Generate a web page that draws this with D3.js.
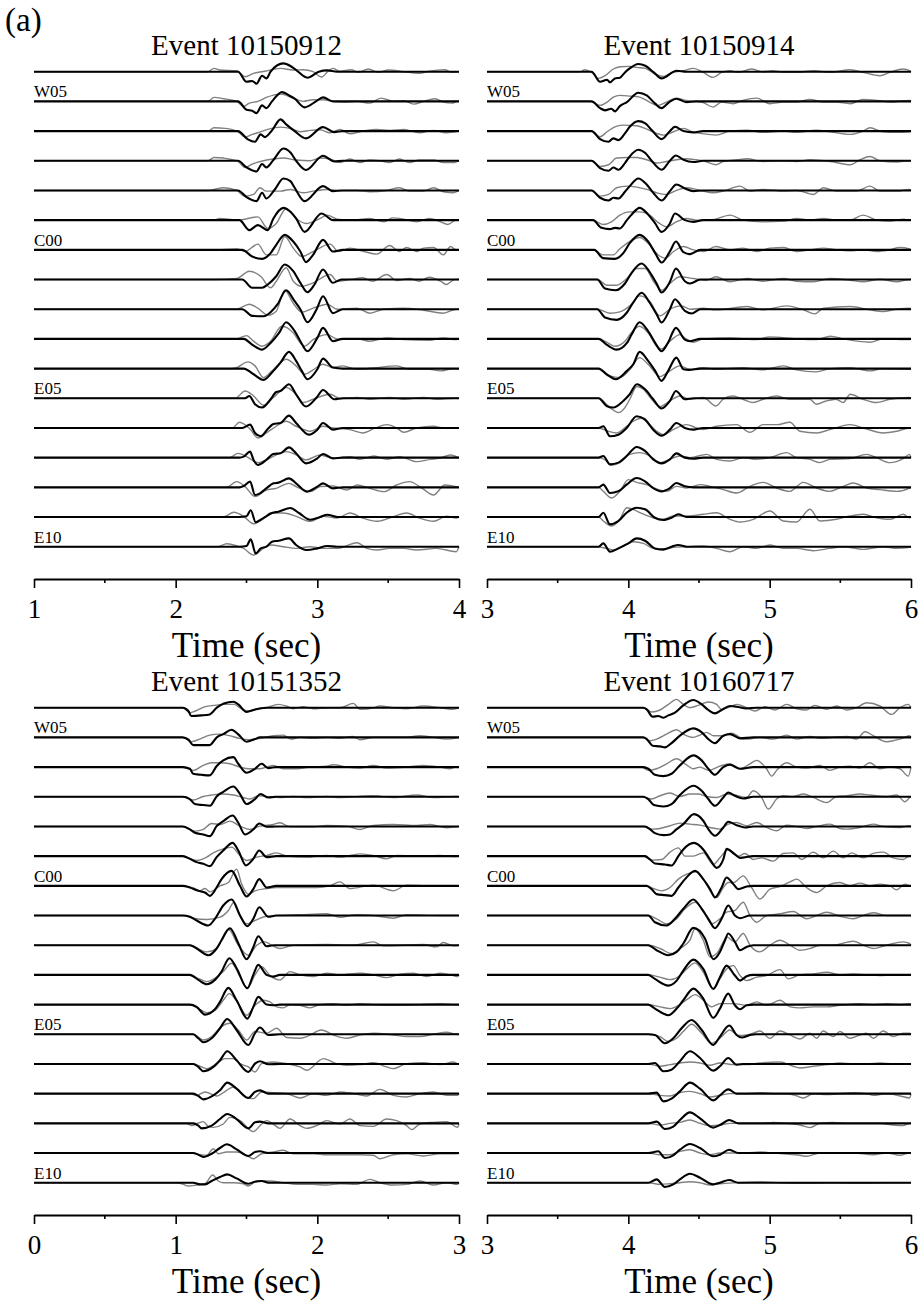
<!DOCTYPE html>
<html>
<head>
<meta charset="utf-8">
<script src="https://cdn.jsdelivr.net/npm/d3@7"></script>
<style>
body { margin: 0; background: #fff; }
</style>
</head>
<body>
<div id="chart"></div>
<script>
// stations, top to bottom
var stations = ["W06","W05","W04","W03","W02","W01","C00","E01","E02","E03","E04","E05","E06","E07","E08","E09","E10"];
var labelled = ["W05","C00","E05","E10"];
var events = ["10150912","10150914","10151352","10160717"];
var timeRanges = [[1,4],[3,6],[0,3],[3,6]];
var majorTicks = [[1,2,3,4],[3,4,5,6],[0,1,2,3],[3,4,5,6]];

// each trace: flat list of time (s), amplitude pairs
var ev1Black = [
 [2.44,0,2.50,-1.0,2.54,-0.93,2.57,-1.2,2.61,-0.4,2.64,-0.67,2.67,0,2.76,0.83,2.81,0.57,2.85,0.17,2.93,-0.6,3.01,0,3.07,0.13,3.14,0],
 [2.44,0,2.50,-0.83,2.54,-0.93,2.57,-1.17,2.61,-0.4,2.64,-0.67,2.68,0,2.75,0.93,2.80,0.6,2.84,0.27,2.91,-0.6,2.99,0,3.04,0.4,3.11,0],
 [2.44,0,2.51,-0.83,2.56,-1.07,2.60,-0.33,2.63,-0.6,2.68,0.07,2.74,1.17,2.78,0.67,2.84,0,2.92,-0.73,3.04,0.4,3.12,-0.1,3.18,0],
 [2.44,0,2.50,-0.67,2.57,-1.07,2.61,-0.33,2.64,-0.67,2.69,0.07,2.76,1.23,2.81,0.83,2.85,0,2.92,-0.93,3.04,0.5,3.12,-0.07,3.18,0],
 [2.44,0,2.50,-0.67,2.57,-1.07,2.61,-0.23,2.64,-0.8,2.70,0.1,2.76,1.2,2.81,0.93,2.84,0.27,2.91,-1.07,3.04,0.43,3.11,-0.07,3.18,0],
 [2.45,0,2.52,-1.0,2.58,-0.5,2.65,-1.0,2.69,0.17,2.76,1.23,2.81,0.83,2.85,0.17,2.91,-1.17,3.03,0.67,3.11,0,3.16,0],
 [2.47,0,2.54,-0.67,2.61,-0.9,2.67,-0.33,2.71,0.5,2.77,1.5,2.83,0.83,2.88,-0.17,2.92,-1.23,2.97,-0.5,3.04,1.0,3.11,-0.17,3.18,0],
 [2.47,0,2.54,-0.83,2.61,-0.83,2.65,-0.5,2.71,0.33,2.77,1.5,2.83,0.83,2.88,-0.33,2.93,-1.27,2.98,-0.5,3.04,1.0,3.11,-0.33,3.17,0],
 [2.47,0,2.54,-0.67,2.62,-0.7,2.67,-0.3,2.72,0.5,2.78,1.9,2.84,0.8,2.88,0,2.93,-1.3,2.995,0,3.04,1.3,3.11,-0.4,3.18,0],
 [2.48,0,2.54,-0.57,2.61,-1.07,2.67,-0.4,2.73,0.6,2.78,1.67,2.84,0.77,2.88,-0.23,2.93,-1.23,3.0,0.1,3.04,1.1,3.11,-0.23,3.18,0],
 [2.48,0,2.55,-0.57,2.62,-1.13,2.69,-0.23,2.74,0.6,2.80,1.67,2.85,0.77,2.89,-0.23,2.93,-1.07,3.0,-0.07,3.04,1.0,3.11,0.1,3.18,0],
 [2.49,0,2.52,0.23,2.56,-0.6,2.61,-0.93,2.67,-0.1,2.71,0.63,2.74,0.73,2.80,1.4,2.85,0.4,2.92,-0.83,2.995,0.07,3.04,0.83,3.12,-0.1,3.18,0],
 [2.47,0,2.525,0.33,2.56,-0.5,2.60,-0.83,2.65,-0.1,2.69,0.4,2.74,0.5,2.80,1.23,2.85,0.5,2.94,-0.67,3.0,-0.17,3.04,0.5,3.11,-0.17,3.18,0],
 [2.45,0,2.48,0.1,2.525,0.6,2.55,-0.23,2.58,-0.73,2.64,-0.23,2.69,0.37,2.74,0.43,2.80,1.03,2.85,0.43,2.92,-0.57,3.0,-0.07,3.04,0.37,3.11,-0.07,3.18,0],
 [2.45,0,2.48,0.13,2.525,0.57,2.56,-0.77,2.595,-0.6,2.64,-0.1,2.69,0.4,2.725,0.47,2.80,0.9,2.85,0.4,2.925,-0.43,3.0,0.07,3.04,0.4,3.11,-0.1,3.18,0],
 [2.45,0,2.50,0.07,2.53,0.67,2.565,-0.53,2.60,-0.27,2.64,0.07,2.68,0.4,2.725,0.53,2.81,0.9,2.87,0.4,2.95,-0.27,3.02,0,3.07,0.23,3.14,0],
 [2.45,0,2.50,0.07,2.53,0.73,2.565,-0.67,2.60,-0.17,2.64,0,2.68,0.5,2.725,0.6,2.80,0.83,2.85,0.17,2.925,-0.33,3.0,-0.17,3.07,0.07,3.14,0]
];
var ev1Gray = [
 [2.27,0.33,2.31,0.17,2.43,0.1,2.49,-0.5,2.55,-0.17,2.63,0.05,2.74,0.33,2.83,0.17,2.90,0.2,2.97,0,3.03,-0.53,3.08,0.1,3.11,0.33,3.16,0.05,3.24,0.2,3.29,-0.07,3.36,0.27,3.43,-0.07,3.50,0.17,3.61,0,3.72,-0.17,3.79,0.05,3.90,0.2,3.95,-0.07],
 [2.27,0.4,2.34,0.27,2.43,0,2.48,-0.5,2.52,-0.17,2.58,0,2.64,0.4,2.74,0.73,2.83,0.33,2.90,0,2.97,0.17,3.04,0.17,3.11,0,3.18,-0.07,3.28,0,3.37,-0.17,3.45,0.33,3.54,0,3.61,0.07,3.68,-0.27,3.75,0,3.83,0.27,3.89,-0.07,3.95,-0.17],
 [2.27,0.33,2.35,0.27,2.44,-0.07,2.49,-0.6,2.54,-0.33,2.58,-0.17,2.65,0.17,2.74,0.4,2.83,0.17,2.88,-0.07,2.95,0.07,3.02,0.13,3.09,-0.17,3.16,0.17,3.23,-0.27,3.32,0,3.42,0.17,3.51,0.07,3.61,0.17,3.72,-0.17,3.82,0.07,3.91,-0.17,3.97,-0.07],
 [2.27,0.33,2.34,0.27,2.44,-0.07,2.49,-0.67,2.54,-0.33,2.62,0,2.69,0.17,2.76,0.27,2.85,0.07,2.95,0,3.02,0.27,3.09,0.17,3.16,-0.17,3.23,0.17,3.30,-0.17,3.37,0.07,3.44,0,3.51,-0.17,3.58,0.17,3.65,-0.17,3.72,0.07,3.82,0.07,3.89,-0.17,3.97,-0.17],
 [2.27,0.1,2.34,0.27,2.43,0,2.49,-0.57,2.55,-0.4,2.595,0.27,2.64,-0.07,2.74,-0.07,2.81,0.1,2.90,-0.23,2.97,-0.07,3.07,0.1,3.14,0,3.28,0,3.37,-0.13,3.49,0,3.58,0.27,3.65,-0.07,3.75,-0.07,3.82,0.27,3.89,-0.13,3.96,-0.23],
 [2.27,0,2.31,0.17,2.44,0,2.58,0.33,2.65,-0.83,2.71,-0.33,2.78,1.17,2.85,0.17,2.92,-0.33,3.02,0.17,3.07,0.5,3.14,0.1,3.25,0,3.37,0.17,3.47,-0.17,3.53,0.23,3.61,0.1,3.70,-0.17,3.79,0.17,3.87,-0.17,3.92,-0.43,3.98,0],
 [2.27,0,2.43,0.1,2.49,-0.17,2.58,0.57,2.64,-0.5,2.71,-0.5,2.77,1.33,2.83,0.17,2.89,-0.67,2.97,-0.17,3.09,0.57,3.15,-0.17,3.23,0.17,3.33,-0.17,3.42,-0.43,3.51,0.43,3.58,-0.17,3.63,0.23,3.70,-0.17,3.75,0.17,3.82,0.23,3.89,-0.5,3.94,0.33,3.98,0],
 [2.27,0,2.43,0.1,2.52,0.83,2.60,0.33,2.67,-0.83,2.71,-0.17,2.78,1.17,2.83,-0.17,2.89,-0.67,2.97,-0.33,3.09,0.5,3.14,-0.17,3.23,0,3.32,0.17,3.39,-0.17,3.49,0.5,3.56,-0.1,3.65,0.1,3.72,-0.17,3.79,0.23,3.87,-0.17,3.91,-0.5,3.97,0],
 [2.43,0,2.52,0.5,2.58,0.1,2.65,-0.6,2.71,-0.2,2.77,1.9,2.83,0.6,2.89,-0.3,2.97,0.1,3.07,0.5,3.14,0,3.28,0.1,3.37,-0.4,3.47,0,3.61,0.1,3.75,-0.1,3.89,-0.4,3.98,0],
 [2.43,0,2.50,0.33,2.55,-0.23,2.61,-0.73,2.67,-0.23,2.75,1.27,2.83,0.6,2.88,-0.4,2.91,-0.73,2.97,-0.07,3.07,0.43,3.14,0,3.28,0,3.37,-0.23,3.49,0.1,3.61,-0.07,3.79,-0.13,3.89,0.1,3.98,-0.07],
 [2.43,0.1,2.51,0.67,2.56,0.27,2.62,-0.9,2.68,-0.23,2.78,0.93,2.85,0.27,2.91,-0.57,2.97,-0.13,3.04,0.43,3.11,0.1,3.18,0.27,3.28,-0.07,3.42,0.1,3.56,0.27,3.65,-0.07,3.79,-0.07,3.87,-0.23,3.96,0],
 [2.42,0,2.49,0.73,2.55,0.23,2.62,-0.7,2.69,0.07,2.78,1.07,2.85,0.4,2.90,-0.43,2.97,-0.1,3.09,0.4,3.16,-0.03,3.28,0.07,3.37,-0.1,3.51,0.07,3.61,-0.1,3.75,0.07,3.84,-0.1,3.96,0],
 [2.40,0,2.45,0.57,2.525,-0.1,2.58,-1.0,2.64,-0.5,2.71,0.17,2.78,0.67,2.85,0.17,2.95,-0.33,3.04,0.17,3.11,0,3.23,-0.17,3.32,-0.5,3.41,0,3.49,0.33,3.56,0,3.61,-0.43,3.70,0,3.82,0.17,3.89,0,3.98,0],
 [2.38,0,2.44,0.43,2.50,0.1,2.58,-0.5,2.64,-0.23,2.71,0.27,2.78,0.6,2.85,0.27,2.92,-0.23,3.02,0.27,3.11,-0.07,3.23,0.1,3.30,-0.17,3.40,0.17,3.49,-0.17,3.58,0.1,3.70,-0.4,3.80,-0.17,3.86,-0.07,3.94,0.27,3.98,0.1],
 [2.36,0,2.43,0.57,2.49,0.07,2.56,-0.93,2.64,-0.27,2.71,-0.1,2.80,0.4,2.85,0.07,2.95,-0.43,3.02,0.07,3.11,0.13,3.21,-0.27,3.28,0.23,3.37,-0.1,3.47,-0.43,3.56,0.23,3.65,0.57,3.74,-0.1,3.82,-0.77,3.90,0.23,3.98,0.07],
 [2.35,0.07,2.41,0.47,2.48,0.07,2.55,-0.67,2.61,-0.27,2.67,0.4,2.76,0.4,2.85,0.07,2.95,-0.43,3.04,0.07,3.14,-0.1,3.23,0.4,3.32,-0.1,3.42,-0.43,3.51,-0.1,3.63,0.4,3.72,-0.1,3.82,-0.43,3.91,0.07,3.98,-0.1],
 [2.30,0,2.36,0.3,2.41,0.17,2.48,-0.17,2.55,-0.83,2.62,-0.17,2.67,0.17,2.76,0,2.85,-0.17,2.95,0,3.04,-0.17,3.14,-0.17,3.28,0.4,3.35,-0.17,3.42,-0.33,3.51,-0.17,3.61,-0.17,3.70,-0.33,3.84,-0.17,3.98,-0.5]
];

var ev2Black = [
 [3.74,0,3.80,-1.0,3.85,-0.8,3.87,-1.07,3.905,-0.67,3.94,-0.6,3.976,-0.07,4.01,0.33,4.07,0.77,4.12,0.6,4.18,-0.07,4.235,-0.67,4.32,0,4.34,0.1,4.41,0,4.48,0],
 [3.74,0,3.80,-0.67,3.835,-0.9,3.88,-0.73,3.905,-1.0,3.94,-0.47,3.99,-0.07,4.07,0.87,4.13,0.6,4.19,-0.23,4.235,-0.67,4.29,-0.07,4.34,0.27,4.41,-0.07,4.48,0],
 [3.74,0,3.80,-0.8,3.86,-1.07,3.894,-0.73,3.93,-0.9,3.976,-0.23,4.01,0.43,4.07,1.0,4.12,0.77,4.165,0.1,4.235,-0.8,4.29,-0.07,4.33,0.43,4.39,0,4.46,-0.13,4.53,0],
 [3.74,0,3.80,-0.73,3.86,-1.0,3.894,-0.67,3.93,-0.9,3.976,-0.23,4.01,0.43,4.07,1.1,4.12,0.77,4.165,0,4.235,-0.9,4.29,-0.07,4.337,0.53,4.39,0.1,4.46,-0.13,4.53,0],
 [3.74,0,3.80,-0.73,3.86,-1.0,3.894,-0.73,3.93,-0.8,3.976,-0.13,4.01,0.43,4.07,1.2,4.13,0.6,4.176,-0.23,4.235,-1.0,4.294,-0.07,4.34,0.6,4.40,0.2,4.46,-0.07,4.53,0],
 [3.75,0,3.81,-0.77,3.87,-0.9,3.905,-0.77,3.94,-0.83,3.99,0,4.02,0.5,4.08,1.23,4.14,0.57,4.19,-0.33,4.235,-1.17,4.294,-0.33,4.33,0.67,4.40,0,4.46,-0.17,4.53,0],
 [3.76,0,3.82,-0.83,3.905,-0.9,3.964,-0.33,4.01,0.67,4.08,1.5,4.14,0.83,4.19,-0.33,4.235,-1.27,4.294,-0.17,4.337,0.83,4.39,-0.23,4.436,-0.43,4.51,0],
 [3.78,0,3.835,-0.9,3.91,-1.07,3.976,-0.4,4.02,0.6,4.094,1.6,4.15,0.77,4.20,-0.4,4.235,-1.3,4.294,-0.23,4.337,1.1,4.40,-0.17,4.436,-0.4,4.51,0],
 [3.78,0,3.835,-0.83,3.917,-1.07,3.99,-0.33,4.035,0.67,4.094,1.65,4.15,0.67,4.20,-0.5,4.235,-1.33,4.294,0,4.33,1.0,4.40,-0.17,4.448,-0.43,4.51,0],
 [3.79,0,3.846,-0.57,3.917,-1.07,3.99,-0.4,4.023,0.43,4.08,1.67,4.14,0.77,4.19,-0.4,4.235,-1.23,4.28,-0.4,4.337,1.1,4.40,-0.07,4.436,-0.23,4.51,0],
 [3.79,0,3.846,-0.57,3.912,-1.07,3.99,-0.23,4.035,0.43,4.08,1.67,4.14,0.77,4.19,-0.23,4.235,-1.23,4.282,-0.23,4.34,1.1,4.39,-0.07,4.43,-0.13,4.51,0],
 [3.79,0,3.846,-0.77,3.894,-0.93,3.964,-0.27,4.01,0.4,4.06,1.4,4.118,0.9,4.176,-0.1,4.235,-1.03,4.294,-0.27,4.337,0.73,4.40,-0.1,4.46,0,4.53,0],
 [3.79,0,3.823,0.17,3.87,-0.83,3.929,-0.67,3.988,0,4.059,1.17,4.118,0.83,4.176,-0.17,4.235,-0.77,4.294,-0.17,4.34,0.5,4.40,0,4.46,-0.17,4.53,0],
 [3.79,0,3.823,0.17,3.87,-0.67,3.929,-0.5,3.988,0.17,4.059,1.07,4.118,0.67,4.176,-0.17,4.235,-0.57,4.294,-0.17,4.34,0.43,4.40,0,4.46,-0.1,4.53,0],
 [3.79,0,3.823,0.27,3.87,-0.57,3.929,-0.4,3.988,0.27,4.059,0.93,4.118,0.6,4.176,-0.07,4.235,-0.4,4.294,-0.07,4.34,0.43,4.40,0.1,4.46,0,4.53,0],
 [3.79,0,3.823,0.43,3.87,-0.73,3.929,-0.4,3.988,0.43,4.059,0.93,4.118,0.77,4.188,-0.07,4.247,-0.3,4.306,-0.07,4.353,0.27,4.412,0,4.48,0],
 [3.79,0,3.823,0.33,3.87,-0.5,3.929,-0.17,4.0,0.33,4.059,0.83,4.118,0.6,4.188,-0.17,4.247,-0.27,4.306,0,4.353,0.17,4.412,0,4.48,0]
];
var ev2Gray = [
 [3.66,0,3.69,0.2,3.74,-0.07,3.79,-0.67,3.835,-0.4,3.894,0.27,3.94,0.5,4.01,0.53,4.06,0.43,4.12,0.33,4.19,-0.23,4.25,-0.47,4.31,-0.07,4.34,0,4.39,0.1,4.46,0.33,4.53,-0.07,4.60,-0.57,4.66,-0.07,4.72,0.1,4.78,-0.07,4.87,0.27,4.95,0,5.02,0.1,5.10,-0.07,5.19,-0.07,5.31,0.1,5.43,-0.07,5.57,0.2,5.66,-0.07,5.78,-0.4,5.85,-0.07,5.945,0.27,5.99,0.1],
 [3.73,0,3.80,-0.4,3.85,-0.07,3.894,0.43,3.94,0.6,4.01,0.53,4.08,0.43,4.15,-0.07,4.21,-0.4,4.27,-0.07,4.34,0.33,4.41,0.1,4.48,0,4.53,-0.13,4.60,-0.57,4.66,-0.07,4.74,-0.23,4.81,0.1,4.91,0.33,5.0,-0.23,5.10,-0.07,5.19,-0.07,5.285,0.2,5.38,-0.07,5.47,-0.07,5.57,-0.23,5.66,0.2,5.76,0.1,5.85,-0.07,5.99,0.1],
 [3.74,0,3.80,-0.57,3.85,-0.07,3.905,0.43,3.96,0.6,4.06,0.53,4.13,0.2,4.20,-0.23,4.25,-0.4,4.32,-0.07,4.39,0.27,4.46,-0.13,4.51,-0.23,4.62,-0.4,4.72,0,4.84,0.1,4.95,-0.13,5.10,0,5.19,-0.13,5.33,0.1,5.43,-0.07,5.57,-0.33,5.66,0,5.71,0.33,5.80,-0.07,5.90,-0.13,5.99,-0.07],
 [3.74,0,3.80,-0.57,3.86,-0.4,3.917,0.27,3.99,0.33,4.06,0.33,4.13,0.1,4.20,-0.23,4.27,-0.07,4.34,0.1,4.41,0.2,4.48,0.1,4.53,0,4.62,-0.4,4.67,-0.07,4.77,0.1,4.84,0.2,4.95,-0.07,5.10,0,5.19,-0.07,5.285,0.1,5.43,-0.07,5.57,-0.4,5.64,0.1,5.71,0.43,5.78,0,5.90,-0.13,5.99,0],
 [3.74,0,3.80,-0.57,3.86,-0.4,3.917,0.27,3.99,0.43,4.06,0.33,4.13,0.1,4.20,-0.23,4.27,-0.4,4.34,0,4.41,0.27,4.48,0.1,4.53,-0.07,4.60,-0.23,4.67,-0.07,4.79,0.43,4.86,-0.07,4.95,0.1,5.10,-0.07,5.19,0,5.31,-0.4,5.38,0.27,5.47,-0.07,5.615,-0.07,5.71,0.43,5.78,-0.07,5.90,-0.07,5.99,0.1],
 [3.75,0,3.82,-0.43,3.88,-0.17,3.94,0.5,4.01,0.83,4.08,0.83,4.15,0.5,4.22,-0.33,4.27,-0.67,4.34,-0.17,4.41,0.17,4.48,0,4.58,0,4.72,0.5,4.81,0,4.95,-0.17,5.10,-0.1,5.19,0.17,5.285,0,5.38,0.17,5.47,0,5.57,0,5.66,0.5,5.76,0,5.85,-0.1,5.95,0.1,5.99,0],
 [3.75,0,3.82,-0.5,3.894,-0.5,3.94,0.1,4.01,0.83,4.08,1.23,4.15,0.5,4.21,-0.5,4.26,-0.83,4.32,-0.17,4.39,0.33,4.46,0,4.53,-0.17,4.62,0.33,4.72,0,4.81,0.17,4.91,-0.17,5.0,0.17,5.10,0.23,5.19,-0.17,5.285,0,5.38,0.17,5.47,0,5.57,-0.1,5.66,0,5.76,-0.17,5.85,0,5.92,0.23,5.99,0.1],
 [3.78,0,3.85,-0.57,3.917,-0.57,3.99,0.1,4.06,1.1,4.12,1.1,4.18,-0.23,4.235,-1.07,4.294,-0.4,4.365,0.27,4.46,0.1,4.55,-0.07,4.62,0.27,4.72,-0.23,4.84,0.1,4.95,-0.17,5.10,0.1,5.19,-0.17,5.31,-0.23,5.43,0.1,5.57,-0.07,5.66,-0.23,5.78,0.03,5.90,-0.23,5.99,0],
 [3.78,0,3.87,-0.4,3.94,-0.27,4.01,0.33,4.08,1.33,4.15,0.83,4.224,-0.67,4.294,0,4.377,0.33,4.44,0,4.53,0.1,4.62,-0.07,4.84,0.27,4.95,-0.07,5.12,0.33,5.24,-0.07,5.32,-0.47,5.38,0.1,5.57,0.27,5.71,-0.07,5.80,-0.23,5.90,0,5.99,0.1],
 [3.79,0,3.846,-0.33,3.905,-0.73,3.976,-0.23,4.02,0.6,4.08,1.27,4.14,0.6,4.20,-0.73,4.235,-1.0,4.294,-0.23,4.365,0.43,4.41,0,4.46,-0.33,4.53,0,4.72,0.1,4.91,-0.07,5.0,0.2,5.19,0,5.33,-0.07,5.43,0.27,5.52,0,5.71,-0.33,5.80,0,5.99,-0.07],
 [3.79,0,3.87,-0.73,3.94,-0.9,4.01,-0.13,4.08,1.1,4.14,0.43,4.224,-0.8,4.294,-0.23,4.365,0.27,4.436,-0.07,4.53,0.1,4.62,-0.07,4.81,0.1,4.95,-0.13,5.096,0.27,5.19,-0.13,5.33,-0.33,5.43,0,5.57,0.1,5.71,-0.23,5.80,0,5.99,-0.07],
 [3.79,0,3.87,-0.93,3.93,-1.43,3.976,-0.93,4.01,-0.1,4.06,1.17,4.106,0.9,4.165,-0.1,4.224,-0.83,4.294,-0.27,4.365,0.23,4.436,-0.1,4.53,0.07,4.62,-0.77,4.67,-0.1,4.74,0.23,4.81,-0.1,4.884,-0.43,4.954,-0.1,5.05,0.23,5.14,-0.1,5.285,-0.1,5.33,-0.6,5.40,-0.27,5.47,-0.1,5.52,-0.43,5.57,0.4,5.66,-0.1,5.756,-0.43,5.85,-0.1,5.99,0.07],
 [3.79,0,3.858,-0.33,3.917,-0.5,3.988,0.17,4.035,0.67,4.106,1.0,4.153,0.33,4.20,-0.33,4.247,-0.67,4.318,-0.17,4.412,0.33,4.483,0,4.53,-0.17,4.624,0.17,4.766,0.33,4.86,-0.43,4.954,0.33,5.05,0.33,5.143,0.57,5.214,-0.33,5.332,-0.5,5.426,-0.17,5.568,0.33,5.662,0,5.804,-0.5,5.898,-0.33,5.99,0],
 [3.79,0,3.846,-0.33,3.882,-0.77,3.94,-0.5,4.01,0.33,4.08,0.5,4.153,0.17,4.224,-0.5,4.294,-0.17,4.365,0.17,4.436,0,4.554,0.33,4.624,-0.17,4.719,-0.33,4.813,0,4.907,-0.17,5.0,0,5.12,0.5,5.19,0,5.285,-0.17,5.355,-0.5,5.426,-0.17,5.568,-0.1,5.686,0.33,5.756,0,5.851,-0.5,5.945,-0.1,5.99,0.33],
 [3.79,0,3.823,-0.4,3.882,-1.07,3.94,-0.4,4.0,0.77,4.059,0.5,4.129,0.27,4.20,-0.17,4.271,-0.4,4.341,0.1,4.412,-0.07,4.507,0.27,4.577,0.1,4.672,-0.23,4.766,-0.57,4.86,0.1,4.954,0.5,5.049,-0.07,5.143,-0.4,5.237,0.5,5.332,-0.07,5.426,-0.4,5.52,0.1,5.592,0.43,5.686,-0.07,5.78,-0.23,5.898,-0.4,5.99,-0.07],
 [3.79,0,3.823,-0.4,3.882,-0.9,3.94,-0.23,3.988,0.93,4.035,0.77,4.082,0.43,4.176,-0.07,4.247,-0.23,4.318,0.1,4.412,0.1,4.53,0.27,4.624,0.43,4.719,-0.23,4.79,-0.5,4.884,-0.23,5.002,0.6,5.096,-0.4,5.19,-0.5,5.285,0.77,5.355,-0.4,5.473,-0.23,5.568,0.1,5.662,0.27,5.756,-0.07,5.851,-0.23,5.945,0.27,5.99,-0.07],
 [3.776,0,3.846,-0.17,3.905,-0.33,3.976,0.17,4.035,0.5,4.106,0.33,4.176,-0.17,4.247,-0.33,4.318,-0.07,4.412,0,4.53,0.07,4.624,-0.17,4.719,-0.5,4.813,0,4.907,-0.17,5.002,0.17,5.096,-0.17,5.19,-0.17,5.308,-0.4,5.426,-0.17,5.52,0,5.662,-0.27,5.804,0,5.898,-0.17,5.99,-0.07]
];

var ev3Black = [
 [1.05,0,1.09,-0.33,1.11,-0.83,1.18,-0.77,1.24,-0.67,1.29,0,1.34,0.43,1.407,0.6,1.442,0.33,1.50,-0.43,1.56,-0.17,1.64,0],
 [1.05,0,1.09,-0.23,1.124,-0.77,1.18,-0.77,1.24,-0.77,1.29,0,1.336,0.33,1.395,0.77,1.44,0.33,1.50,-0.43,1.56,-0.17,1.595,0],
 [1.05,0,1.10,-0.17,1.124,-0.67,1.18,-0.77,1.24,-0.83,1.29,0.1,1.336,0.67,1.407,1.0,1.442,0.33,1.50,-0.57,1.56,-0.17,1.607,0.33,1.654,-0.1,1.71,0],
 [1.05,0,1.10,-0.23,1.136,-0.73,1.195,-0.83,1.242,-0.9,1.289,0.03,1.336,0.5,1.407,1.03,1.454,0.27,1.501,-0.73,1.56,-0.23,1.60,0.27,1.654,-0.07,1.71,0],
 [1.05,0,1.10,-0.3,1.136,-0.63,1.195,-0.8,1.242,-0.97,1.289,0.03,1.336,0.53,1.402,1.1,1.442,0.37,1.489,-0.8,1.548,-0.3,1.59,0.3,1.642,-0.03,1.71,0],
 [1.05,0,1.10,-0.27,1.148,-0.6,1.195,-0.77,1.242,-1.0,1.289,-0.1,1.336,0.57,1.402,1.33,1.442,0.57,1.496,-0.93,1.548,-0.27,1.59,0.57,1.642,-0.1,1.71,0],
 [1.05,0,1.10,-0.17,1.16,-0.5,1.207,-0.67,1.242,-1.0,1.289,-0.17,1.324,0.67,1.395,1.5,1.454,0,1.501,-1.07,1.548,-0.33,1.59,0.67,1.642,-0.17,1.71,0],
 [1.05,0,1.10,-0.13,1.148,-0.5,1.23,-1.0,1.277,-0.33,1.336,1.0,1.395,1.6,1.454,0,1.506,-1.07,1.548,-0.33,1.59,0.83,1.654,-0.13,1.71,0],
 [1.10,0,1.148,-0.33,1.23,-1.0,1.289,-0.33,1.324,0.5,1.383,1.7,1.442,0.2,1.501,-1.4,1.548,-0.2,1.583,0.9,1.642,-0.1,1.69,0],
 [1.10,0,1.16,-0.5,1.219,-0.93,1.277,-0.5,1.324,0.33,1.379,1.67,1.43,0.67,1.506,-1.33,1.548,0,1.583,1.0,1.642,0,1.689,-0.17,1.736,0],
 [1.10,0,1.148,-0.23,1.207,-1.0,1.277,-0.47,1.313,0.27,1.372,1.67,1.43,0.43,1.506,-1.4,1.548,-0.23,1.583,0.77,1.642,0,1.689,-0.07,1.736,0],
 [1.124,0,1.16,-0.4,1.195,-0.8,1.254,-0.4,1.313,0.6,1.364,1.53,1.43,0.43,1.513,-1.07,1.56,0.1,1.595,0.67,1.654,-0.07,1.736,0],
 [1.124,0,1.16,-0.3,1.195,-0.73,1.266,-0.3,1.313,0.37,1.364,1.27,1.43,0.37,1.513,-0.8,1.56,0.03,1.595,0.27,1.654,-0.03,1.736,0],
 [1.124,0,1.16,-0.23,1.195,-0.57,1.266,-0.17,1.313,0.33,1.364,1.1,1.43,0.5,1.513,-0.43,1.56,0.17,1.595,0.33,1.654,0,1.736,0],
 [1.124,0,1.16,-0.23,1.183,-0.5,1.254,-0.23,1.313,0.43,1.364,0.93,1.43,0.43,1.513,-0.5,1.56,0.1,1.595,0.17,1.654,0,1.736,0],
 [1.124,0,1.16,-0.17,1.195,-0.4,1.254,-0.07,1.313,0.5,1.36,0.87,1.43,0.37,1.513,-0.3,1.56,0.1,1.595,0.17,1.654,0,1.736,0],
 [1.124,0,1.172,-0.17,1.207,-0.17,1.254,0.17,1.313,0.57,1.364,0.83,1.43,0.43,1.513,-0.1,1.56,0.1,1.607,0.17,1.654,0,1.736,0]
];
var ev3Gray = [
 [1.05,0,1.10,-0.5,1.14,-0.33,1.21,0.1,1.27,0.23,1.336,0.33,1.41,0.33,1.47,-0.17,1.524,-0.33,1.58,-0.1,1.64,0,1.724,0.33,1.78,0.17,1.83,-0.1,1.90,0.1,1.97,-0.1,2.07,0,2.16,0,2.254,0.43,2.30,-0.17,2.40,0,2.44,0.17,2.54,0,2.63,-0.1,2.75,0.17,2.87,0,2.96,-0.17],
 [1.05,0,1.11,-0.43,1.17,-0.17,1.24,0.23,1.31,0.33,1.38,0.17,1.45,-0.1,1.52,-0.23,1.595,-0.1,1.69,0.17,1.76,0.23,1.81,-0.17,1.88,0,1.97,-0.1,2.07,0,2.16,-0.1,2.25,0.1,2.30,-0.23,2.40,0,2.54,0,2.63,0,2.72,0.17,2.82,0,2.91,-0.17,2.98,-0.07],
 [1.05,0,1.124,-0.33,1.195,0.17,1.254,0.43,1.313,0.43,1.383,0.33,1.454,0,1.524,-0.17,1.595,-0.17,1.642,0,1.689,0.17,1.76,-0.17,1.854,-0.17,1.948,0,2.066,0.1,2.113,0.23,2.207,0,2.30,-0.1,2.395,0.17,2.489,-0.1,2.63,0,2.748,0.17,2.866,0,2.936,-0.17],
 [1.05,0,1.124,-0.33,1.195,0.03,1.254,0.17,1.324,0.27,1.407,0.17,1.477,-0.07,1.524,-0.23,1.583,0.1,1.642,0.03,1.736,-0.07,1.83,0.03,1.925,-0.07,2.066,0.03,2.16,-0.07,2.395,0.1,2.536,-0.07,2.701,0.17,2.819,-0.07,2.98,0.03],
 [1.05,0,1.136,-0.47,1.195,-0.3,1.254,0.3,1.313,0.2,1.383,0.53,1.454,0.03,1.524,-0.3,1.595,0.03,1.689,0.2,1.736,0.37,1.807,-0.03,1.972,-0.03,2.066,0.1,2.207,0.03,2.301,-0.3,2.395,0.1,2.536,0.2,2.701,0.1,2.795,0.2,2.913,-0.13,2.98,-0.03],
 [1.05,0,1.148,-0.43,1.219,-0.1,1.266,0.33,1.336,0.73,1.395,0.9,1.454,0.07,1.501,-0.43,1.572,-0.1,1.642,0.07,1.713,0.33,1.783,0,1.925,-0.1,2.066,0.07,2.16,-0.1,2.301,0.23,2.395,0.07,2.489,-0.27,2.56,0.07,2.701,0,2.866,0.07,2.98,-0.03],
 [1.05,0,1.136,-0.27,1.172,-0.5,1.207,-0.27,1.242,-0.6,1.313,0,1.372,0.33,1.43,1.67,1.466,0.17,1.513,-0.83,1.56,-0.5,1.642,-0.27,1.713,-0.17,1.83,-0.17,1.995,-0.17,2.089,0,2.16,0.4,2.23,-0.27,2.348,0,2.395,0.07,2.536,-0.5,2.63,0.07,2.772,0,2.98,0],
 [1.05,0,1.124,-0.27,1.219,-0.4,1.313,-0.17,1.372,0.5,1.412,1.33,1.454,0,1.501,-0.83,1.56,-0.5,1.642,-0.07,1.736,0,1.877,0.07,2.066,0.17,2.16,-0.17,2.277,0.07,2.395,0,2.536,-0.27,2.63,0.07,2.866,0,2.98,0],
 [1.10,0,1.219,-0.67,1.289,-0.33,1.372,1.6,1.442,0,1.513,-1.0,1.572,0,1.63,0.33,1.677,0,1.736,-0.33,1.83,0,2.066,0.07,2.254,0,2.395,0.33,2.466,-0.07,2.748,0.07,2.842,-0.17,2.889,0.27,2.96,-0.07],
 [1.10,0,1.148,-0.27,1.219,-0.67,1.277,-0.33,1.336,0.33,1.395,1.17,1.454,-0.17,1.506,-1.33,1.56,0,1.607,0.83,1.666,-0.07,1.736,-0.5,1.807,0.33,1.877,0,1.972,-0.17,2.066,0.17,2.16,0,2.301,0.17,2.395,0,2.489,-0.27,2.583,0.07,2.677,0.17,2.772,-0.17,2.866,0.17,2.96,-0.07,2.99,-0.17],
 [1.10,0,1.16,-0.4,1.219,-0.8,1.277,-0.57,1.336,0.43,1.379,1.1,1.442,0.1,1.501,-1.07,1.56,-0.07,1.619,0.43,1.666,0.27,1.713,-0.23,1.76,-0.33,1.807,0,1.877,-0.07,1.948,-0.33,2.019,0,2.113,0.1,2.207,-0.07,2.301,0.1,2.395,0,2.489,-0.07,2.63,-0.07,2.724,0,2.866,0.1,2.98,0],
 [1.124,0,1.195,-0.57,1.254,-0.23,1.324,0.77,1.383,1.1,1.442,0.43,1.501,-0.57,1.56,0.27,1.642,0.1,1.713,0.6,1.783,-0.33,1.877,-0.4,1.925,-0.23,2.03,0.43,2.113,-0.07,2.207,-0.4,2.301,-0.07,2.395,0.1,2.536,-0.07,2.63,-0.23,2.724,-0.23,2.819,0,2.913,0.2,2.98,0],
 [1.124,0,1.183,-0.3,1.219,-0.47,1.289,0.03,1.348,0.53,1.407,0.53,1.454,0.03,1.513,-0.3,1.56,-0.8,1.607,0.03,1.689,0.2,1.783,0.03,1.877,-0.3,1.925,-0.63,2.042,0.53,2.136,0.03,2.207,-0.13,2.301,-0.07,2.395,0.13,2.489,-0.3,2.536,-0.47,2.63,0.03,2.748,0.13,2.866,-0.07,2.96,0.2,2.99,0.03],
 [1.10,0,1.148,-0.17,1.207,0.17,1.289,-0.23,1.36,0.33,1.407,0.67,1.477,-0.17,1.548,-0.5,1.607,0.17,1.689,0.1,1.783,0,1.877,-0.43,1.972,0,2.066,-0.17,2.16,0.17,2.254,0,2.348,-0.23,2.442,0.43,2.536,-0.17,2.63,-0.33,2.724,0,2.819,0.17,2.913,-0.17,2.99,-0.17],
 [1.077,0,1.113,-0.23,1.16,0.03,1.195,0.17,1.23,-0.3,1.266,-0.4,1.336,-0.07,1.383,0.6,1.454,0.27,1.548,-0.83,1.607,-0.07,1.642,0.27,1.689,-0.07,1.736,-0.5,1.807,0.43,1.877,-0.23,1.925,-0.5,1.995,-0.23,2.066,0.27,2.16,-0.07,2.23,0.43,2.301,-0.23,2.395,-0.3,2.489,0.43,2.56,0.27,2.63,-0.23,2.666,-0.63,2.724,-0.07,2.819,0.1,2.913,0.17,2.99,-0.4],
 [1.10,0,1.172,-0.17,1.219,-0.23,1.266,0.43,1.301,-0.07,1.36,0.1,1.43,0.1,1.501,-0.23,1.548,-0.57,1.607,-0.07,1.689,0.1,1.76,0.27,1.83,-0.07,1.972,-0.07,2.066,-0.17,2.207,-0.17,2.301,-0.17,2.395,-0.23,2.442,-0.57,2.536,-0.17,2.63,-0.07,2.748,-0.3,2.866,-0.07,2.99,-0.07],
 [1.0,0,1.054,-0.17,1.089,-0.33,1.148,-0.23,1.207,-0.1,1.261,0.77,1.301,0.17,1.336,0,1.407,0,1.477,-0.1,1.513,-0.33,1.572,0.17,1.666,0.17,1.76,0,1.854,-0.17,1.972,-0.17,2.066,-0.23,2.16,-0.1,2.277,-0.17,2.372,0.33,2.442,0,2.536,-0.23,2.63,-0.17,2.724,0.17,2.819,-0.23,2.913,0,2.99,-0.17]
];

var ev4Black = [
 [4.106,0,4.13,-0.17,4.172,-0.9,4.212,-0.83,4.248,-1.0,4.283,-0.77,4.33,-0.5,4.389,0.23,4.46,0.77,4.519,0.33,4.566,-0.23,4.613,-0.57,4.66,-0.23,4.719,0.17,4.766,0.1,4.837,-0.07,4.908,0],
 [4.106,0,4.13,-0.17,4.172,-0.83,4.224,-0.9,4.259,-1.0,4.306,-0.57,4.365,0.17,4.46,0.9,4.519,0.5,4.566,-0.17,4.613,-0.57,4.672,0.17,4.719,0.33,4.79,-0.1,4.884,0],
 [4.106,0,4.141,-0.17,4.188,-0.77,4.248,-0.9,4.306,-0.67,4.365,0.17,4.46,1.17,4.519,0.67,4.566,-0.17,4.613,-0.77,4.672,0,4.719,0.23,4.79,-0.17,4.884,0],
 [4.106,0,4.141,-0.23,4.181,-0.83,4.248,-0.97,4.306,-0.73,4.365,0.17,4.46,1.1,4.519,0.6,4.566,-0.23,4.613,-0.9,4.672,-0.07,4.707,0.43,4.754,0.1,4.813,-0.17,4.884,0],
 [4.118,0,4.153,-0.27,4.188,-0.67,4.248,-0.87,4.295,-0.8,4.342,-0.27,4.389,0.23,4.464,1.23,4.53,0.57,4.566,-0.27,4.613,-0.93,4.672,-0.1,4.707,0.47,4.766,0.13,4.825,-0.1,4.884,0],
 [4.118,0,4.153,-0.33,4.188,-0.73,4.259,-0.83,4.306,-0.93,4.354,0,4.389,0.67,4.464,1.33,4.53,0.67,4.578,-0.33,4.625,-1.17,4.672,-0.33,4.695,0.73,4.754,0.17,4.79,-0.17,4.884,0],
 [4.13,0,4.165,-0.33,4.2,-0.83,4.259,-0.93,4.306,-1.0,4.354,-0.17,4.401,0.67,4.472,1.5,4.53,0.67,4.578,-0.33,4.613,-1.17,4.66,-0.17,4.695,0.83,4.743,0.17,4.778,-0.33,4.837,-0.07,4.884,0],
 [4.141,0,4.188,-0.67,4.271,-1.0,4.33,-0.33,4.389,0.67,4.46,1.6,4.519,0.67,4.566,-0.33,4.613,-1.27,4.66,-0.33,4.707,1.0,4.754,0,4.79,-0.27,4.861,0],
 [4.141,0,4.2,-0.5,4.283,-1.0,4.342,-0.67,4.389,0.17,4.46,1.73,4.542,0.67,4.601,-1.4,4.648,-0.67,4.684,0.5,4.707,1.17,4.754,0.33,4.79,-0.5,4.837,-0.17,4.884,0],
 [4.141,0,4.188,-0.4,4.283,-1.07,4.342,-0.57,4.389,0.43,4.46,1.53,4.53,0.6,4.601,-1.4,4.648,-0.23,4.695,0.93,4.754,-0.07,4.79,-0.57,4.837,-0.13,4.884,0],
 [4.141,0,4.188,-0.4,4.283,-1.07,4.342,-0.4,4.389,0.43,4.46,1.6,4.53,0.6,4.601,-1.33,4.648,-0.4,4.707,1.1,4.754,-0.07,4.79,-0.47,4.837,-0.07,4.884,0],
 [4.141,0,4.188,-0.07,4.259,-0.9,4.318,-0.4,4.377,0.6,4.448,1.43,4.519,0.43,4.601,-1.07,4.648,-0.23,4.714,0.87,4.766,-0.07,4.802,-0.33,4.861,-0.07,4.908,0],
 [4.141,0,4.188,0.1,4.248,-0.73,4.306,-0.57,4.365,0.27,4.436,1.27,4.507,0.6,4.601,-0.67,4.648,-0.23,4.707,0.6,4.766,-0.07,4.813,0,4.884,0],
 [4.141,0,4.2,0.1,4.248,-0.77,4.306,-0.5,4.365,0.23,4.436,1.1,4.507,0.5,4.601,-0.67,4.648,-0.17,4.707,0.43,4.766,0,4.837,0],
 [4.141,0,4.2,0.17,4.259,-0.57,4.318,-0.33,4.365,0.33,4.436,1.1,4.507,0.5,4.601,-0.43,4.648,-0.17,4.714,0.33,4.778,0,4.837,0],
 [4.141,0,4.212,0.17,4.259,-0.5,4.318,-0.23,4.365,0.33,4.436,0.9,4.507,0.5,4.601,-0.33,4.648,-0.17,4.714,0.33,4.778,0,4.837,0],
 [4.141,0,4.2,0.33,4.259,-0.43,4.318,-0.17,4.365,0.33,4.436,0.9,4.507,0.5,4.601,-0.17,4.648,0,4.714,0.27,4.778,0,4.837,0]
];
var ev4Gray = [
 [4.106,0,4.165,-0.43,4.224,-0.23,4.283,0.33,4.342,0.83,4.389,0.33,4.436,0,4.495,0.23,4.566,0.57,4.625,0.33,4.66,-0.17,4.707,0,4.766,0.33,4.837,0,4.896,-0.33,4.967,0.1,5.037,-0.23,5.12,0.33,5.191,-0.1,5.261,-0.23,5.32,0.23,5.403,-0.17,5.474,0.17,5.544,-0.23,5.615,0,5.686,0.5,5.78,0.17,5.863,-0.67,5.922,0,5.981,0.33],
 [4.106,0,4.153,-0.33,4.2,-0.17,4.271,0.33,4.342,0.77,4.389,0.33,4.46,0,4.507,0.23,4.554,0.5,4.601,0.17,4.672,0.17,4.731,0.43,4.79,0,4.837,-0.17,4.931,0,5.026,-0.17,5.12,0.23,5.191,-0.17,5.285,0.1,5.356,-0.1,5.45,0,5.544,0.1,5.615,-0.17,5.674,0.57,5.733,0.17,5.827,-0.43,5.922,-0.17,5.99,0.17],
 [4.094,0,4.141,-0.33,4.2,-0.17,4.271,0.33,4.342,0.83,4.401,0.33,4.46,-0.17,4.507,0,4.566,-0.33,4.648,0.1,4.719,0.33,4.79,-0.17,4.861,0.33,4.908,0.67,4.978,-0.17,5.014,-0.9,5.049,-0.33,5.12,0.43,5.191,0,5.261,-0.1,5.356,0.17,5.426,-0.33,5.497,0,5.568,0.1,5.639,-0.1,5.709,0.43,5.78,-0.17,5.851,0,5.922,-0.17,5.981,-0.9],
 [4.094,0,4.165,-0.23,4.224,0.1,4.295,0.37,4.365,0.03,4.436,0.27,4.495,0.27,4.554,0.03,4.625,-0.07,4.695,0.27,4.754,0.17,4.837,-0.07,4.884,0.6,4.943,-0.07,4.99,-1.23,5.049,-0.23,5.096,0.1,5.167,0.03,5.238,0.27,5.309,-0.07,5.403,-0.57,5.474,0.03,5.544,0.1,5.639,0.27,5.709,0.17,5.827,0.03,5.898,0.17,5.957,-0.5,5.99,-0.1],
 [4.106,0,4.165,-0.27,4.224,-0.2,4.295,0.07,4.365,0.33,4.436,0.23,4.507,0.13,4.578,-0.1,4.648,-0.27,4.707,0.23,4.766,0.4,4.837,0.07,4.908,0.4,4.978,-0.1,5.049,-0.43,5.12,0.13,5.191,0,5.261,-0.2,5.332,0,5.426,0.23,5.497,-0.2,5.544,-0.27,5.639,-0.1,5.733,0.23,5.804,0,5.922,-0.1,5.99,0.07],
 [4.106,0,4.165,-0.4,4.236,-0.33,4.295,0.4,4.354,0.83,4.401,0,4.46,0,4.53,0.33,4.601,-0.83,4.648,-0.17,4.707,0.67,4.778,0,4.825,0.27,4.884,-0.33,4.943,-0.17,5.026,-0.5,5.096,0.27,5.167,0.33,5.226,-0.33,5.309,0.4,5.379,-0.17,5.45,0.5,5.521,-0.17,5.58,0.33,5.662,-0.17,5.733,0.27,5.804,0.4,5.874,-0.17,5.945,-0.33,5.99,0],
 [4.13,0,4.177,-0.27,4.236,-0.5,4.295,-0.17,4.354,0.67,4.413,1.17,4.483,1.4,4.53,0.67,4.589,-0.67,4.625,-1.17,4.672,-0.17,4.707,0.33,4.743,0.33,4.813,1.0,4.872,-0.17,4.931,-1.33,5.002,-0.33,5.073,-0.07,5.144,0.4,5.191,0.67,5.261,-0.17,5.332,-0.67,5.403,0,5.497,0.33,5.568,0,5.639,0.27,5.709,0,5.78,0.17,5.851,0,5.898,-0.4,5.957,0.17,5.99,0],
 [4.141,0,4.2,-0.33,4.271,-0.83,4.342,-0.33,4.401,0.67,4.472,1.33,4.53,0.5,4.589,-0.83,4.648,-0.33,4.695,0.33,4.754,0.5,4.813,1.33,4.861,0,4.908,-0.67,4.978,0,5.073,0.17,5.167,0.4,5.261,-0.33,5.332,0,5.403,0.33,5.497,-0.07,5.592,-0.33,5.662,0,5.733,0.27,5.827,0,5.99,0],
 [4.141,0,4.224,-0.33,4.306,-0.83,4.365,-0.33,4.436,0.5,4.472,1.67,4.53,0.5,4.578,-1.17,4.625,-0.83,4.672,0.33,4.695,0.83,4.754,0.33,4.813,1.17,4.861,0,4.931,-0.67,5.002,0,5.073,0.5,5.144,0,5.214,-0.5,5.285,-0.33,5.356,0,5.45,0,5.592,0.4,5.662,0,5.733,-0.33,5.827,0,5.945,0.33,5.99,0.17],
 [4.141,0,4.224,-0.23,4.295,-0.47,4.365,-0.07,4.413,0.6,4.472,1.2,4.53,0.27,4.601,-1.4,4.648,-0.4,4.695,0.6,4.743,0.93,4.79,-0.07,4.837,-0.57,4.908,-0.23,4.978,-0.07,5.073,0.53,5.132,-0.4,5.214,0,5.309,0.1,5.403,0.27,5.497,0,5.592,0.1,5.686,0,5.78,-0.07,5.874,0,5.99,0],
 [4.141,0,4.224,-0.23,4.295,-0.4,4.365,0,4.424,0.6,4.472,1.0,4.53,0.43,4.589,-0.23,4.648,0.1,4.743,0.1,4.837,-0.07,4.908,0.27,4.978,-0.07,5.073,0.43,5.144,-0.23,5.214,-0.33,5.309,-0.23,5.403,-0.23,5.497,-0.07,5.639,0.1,5.733,0,5.827,0.1,5.922,0,5.99,0.1],
 [4.141,0,4.224,-0.23,4.283,-0.73,4.342,-0.4,4.389,0.27,4.448,1.0,4.519,0.1,4.589,-0.9,4.648,-0.4,4.719,0.43,4.778,-0.13,4.837,-0.07,4.884,0.1,4.931,0.33,5.002,-0.4,5.073,0.33,5.144,-0.07,5.214,-0.47,5.285,0.1,5.332,-0.4,5.379,0.33,5.45,-0.23,5.497,0.27,5.568,-0.4,5.639,-0.07,5.686,0.1,5.733,-0.4,5.804,0.33,5.874,-0.23,5.945,0.1,5.99,0.1],
 [4.141,0,4.224,-0.23,4.295,-0.07,4.365,0.1,4.436,0.2,4.507,0.1,4.578,-0.13,4.648,0.1,4.743,-0.07,4.837,-0.07,4.931,0.1,5.073,0.2,5.167,-0.23,5.214,-0.4,5.309,-0.23,5.403,-0.07,5.497,0.1,5.592,0,5.686,0,5.78,0.1,5.874,0,5.99,0],
 [4.141,0,4.224,-0.17,4.295,-0.23,4.365,0.1,4.436,0.23,4.507,0,4.578,-0.33,4.648,-0.17,4.719,0,4.837,0,4.931,0.1,5.026,0,5.12,0,5.191,-0.23,5.238,-0.43,5.309,0,5.403,-0.1,5.497,0,5.592,0.1,5.686,0,5.733,-0.17,5.827,0,5.922,-0.23,5.99,-0.43],
 [4.141,0,4.224,-0.17,4.295,0,4.365,0.1,4.436,0.33,4.507,0,4.578,-0.23,4.648,-0.17,4.719,0,4.837,0,4.931,0,5.026,0.1,5.12,0,5.214,-0.17,5.285,-0.43,5.356,0,5.45,0.1,5.544,0,5.686,0,5.78,0,5.874,-0.17,5.945,-0.23,5.99,0],
 [4.141,0,4.224,-0.17,4.295,-0.17,4.365,0.17,4.436,0.33,4.507,0,4.578,-0.17,4.648,0,4.719,0,4.837,0,4.931,0.1,5.026,0,5.12,-0.1,5.214,-0.23,5.261,-0.33,5.356,0,5.45,0,5.592,0,5.733,-0.17,5.827,0,5.922,-0.23,5.99,0],
 [4.141,0,4.224,-0.17,4.295,-0.1,4.365,0,4.436,0.1,4.507,0,4.578,-0.23,4.648,-0.1,4.766,0,4.931,0.07,5.073,0,5.261,-0.07,5.45,0,5.639,-0.07,5.827,0,5.99,0]
];

var blackTraces = [ev1Black, ev2Black, ev3Black, ev4Black];
var grayTraces = [ev1Gray, ev2Gray, ev3Gray, ev4Gray];

var W = 919, H = 1303;
var serif = "'Liberation Serif', 'Times New Roman', serif";

var svg = d3.select("#chart")
    .append("svg")
    .attr("width", W)
    .attr("height", H)
    .style("font-family", serif);

svg.append("text")
    .attr("x", 5)
    .attr("y", 31)
    .style("font-size", "33px")
    .text("(a)");

// panel frames: left/right columns, two rows
var cols = [[34, 459], [487, 911]];
var rowShift = [0, 636];

// flat t,a list -> [t,a] pairs, pinned to the baseline just before and after
function pairs(flat, t0, t1) {
    var out = [[t0, 0]];
    var first = flat[0], last = flat[flat.length - 2];
    if (flat[1] !== 0 && first - 0.04 > t0) out.push([first - 0.04, 0]);
    for (var i = 0; i < flat.length; i += 2) out.push([flat[i], flat[i + 1]]);
    if (flat[flat.length - 1] !== 0 && last + 0.04 < t1) out.push([last + 0.04, 0]);
    out.push([t1, 0]);
    return out;
}

var amp = d3.scaleLinear().domain([-1, 1]).range([10, -10]);

events.forEach(function(ev, p) {
    var col = cols[p % 2];
    var dy = rowShift[Math.floor(p / 2)];
    var t0 = timeRanges[p][0], t1 = timeRanges[p][1];

    var x = d3.scaleLinear().domain([t0, t1]).range(col);
    var yRow = d3.scaleLinear().domain([0, stations.length - 1]).range([71.7 + dy, 546.7 + dy]);

    var g = svg.append("g");

    g.append("text")
        .attr("x", (col[0] + col[1]) / 2)
        .attr("y", 55 + dy)
        .attr("text-anchor", "middle")
        .style("font-size", "29px")
        .text("Event " + ev);

    stations.forEach(function(st, i) {
        var base = yRow(i);
        var line = d3.line()
            .x(function(d) { return x(d[0]); })
            .y(function(d) { return base + amp(d[1]); })
            .curve(d3.curveMonotoneX);

        g.append("path")
            .attr("d", line(pairs(grayTraces[p][i], t0, t1)))
            .attr("fill", "none")
            .attr("stroke", "#808080")
            .attr("stroke-width", 1.4);

        g.append("path")
            .attr("d", line(pairs(blackTraces[p][i], t0, t1)))
            .attr("fill", "none")
            .attr("stroke", "#000")
            .attr("stroke-width", 2.1);

        if (labelled.indexOf(st) >= 0) {
            g.append("text")
                .attr("x", col[0])
                .attr("y", base - 4)
                .style("font-size", "17px")
                .text(st);
        }
    });

    // x axis with half-second minor ticks
    var axisY = 579 + dy;
    var minor = d3.range(t0 + 0.5, t1, 1);

    var ax = g.append("g")
        .attr("transform", "translate(0," + axisY + ")")
        .call(d3.axisBottom(x).tickValues(majorTicks[p]).tickSize(9).tickSizeOuter(0).tickFormat(d3.format("d")));
    ax.select(".domain").attr("stroke-width", 2.2);
    ax.selectAll(".tick line").attr("stroke-width", 1.6);
    ax.selectAll(".tick text")
        .attr("y", 39)
        .attr("dy", 0)
        .style("font-size", "27px")
        .style("font-family", serif);

    ax.selectAll(".minor")
        .data(minor)
        .enter()
        .append("line")
        .attr("class", "minor")
        .attr("x1", function(d) { return x(d); })
        .attr("x2", function(d) { return x(d); })
        .attr("y1", 0)
        .attr("y2", 4)
        .attr("stroke", "#000")
        .attr("stroke-width", 1.6);

    g.append("text")
        .attr("x", (col[0] + col[1]) / 2)
        .attr("y", 657 + dy)
        .attr("text-anchor", "middle")
        .style("font-size", "35px")
        .text("Time (sec)");
});
</script>
</body>
</html>
